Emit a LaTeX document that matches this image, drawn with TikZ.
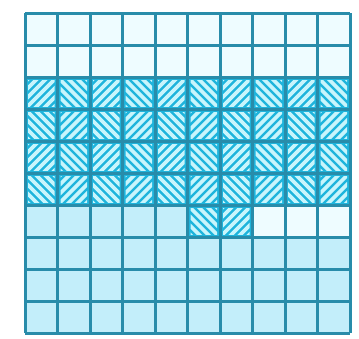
\documentclass[tikz,border=0pt]{standalone}
\definecolor{gridline}{RGB}{40,140,170}
\definecolor{hatchbg}{RGB}{30,180,220}
\definecolor{hatchfg}{RGB}{200,245,252}
\definecolor{lightcell}{RGB}{195,238,250}
\definecolor{whitecell}{RGB}{238,252,255}
\tikzset{
  gridstroke/.style={draw=gridline,line width=3pt},
  hatchline/.style={draw=hatchfg,line width=3.8pt},
}
\begin{document}
\begin{tikzpicture}[x=1pt,y=-1pt]
\useasboundingbox[fill=white] (0,0) rectangle (359,338);
\def\cw{32.5}\def\ch{32}
\def\xo{25}\def\yo{13}
\foreach \r in {0,...,9}{
  \foreach \c in {0,...,9}{
    \pgfmathsetmacro{\xa}{\xo+\c*\cw}
    \pgfmathsetmacro{\ya}{\yo+\r*\ch}
    \pgfmathsetmacro{\xb}{\xa+\cw}
    \pgfmathsetmacro{\yb}{\ya+\ch}
    \pgfmathtruncatemacro{\kind}{
      \r<2 ? 0 : (\r<6 ? 2 : (\r==6 ? (\c<5 ? 1 : (\c<7 ? 2 : 0)) : 1))}
    \ifnum\kind=0
      \fill[whitecell] (\xa,\ya) rectangle (\xb,\yb);
    \fi
    \ifnum\kind=1
      \fill[lightcell] (\xa,\ya) rectangle (\xb,\yb);
    \fi
    \ifnum\kind=2
      \fill[hatchbg] (\xa,\ya) rectangle (\xb,\yb);
      \pgfmathtruncatemacro{\dir}{mod(\r+\c,2)}
      \begin{scope}
        \clip (\xa+3,\ya+3) rectangle (\xb-3,\yb-3);
        \ifnum\dir=0
          \foreach \k in {-36,-27,...,40}{
            \draw[hatchline] (\xa+\k,\yb) -- (\xa+\k+\ch,\ya);
          }
        \else
          \foreach \k in {-36,-27,...,40}{
            \draw[hatchline] (\xa+\k,\ya) -- (\xa+\k+\ch,\yb);
          }
        \fi
      \end{scope}
    \fi
  }
}
\foreach \c in {0,...,10}{
  \pgfmathsetmacro{\xa}{\xo+\c*\cw}
  \draw[gridstroke] (\xa,\yo) -- (\xa,\yo+10*\ch);
}
\foreach \r in {0,...,10}{
  \pgfmathsetmacro{\ya}{\yo+\r*\ch}
  \draw[gridstroke] (\xo,\ya) -- (\xo+10*\cw,\ya);
}
\end{tikzpicture}
\end{document}
